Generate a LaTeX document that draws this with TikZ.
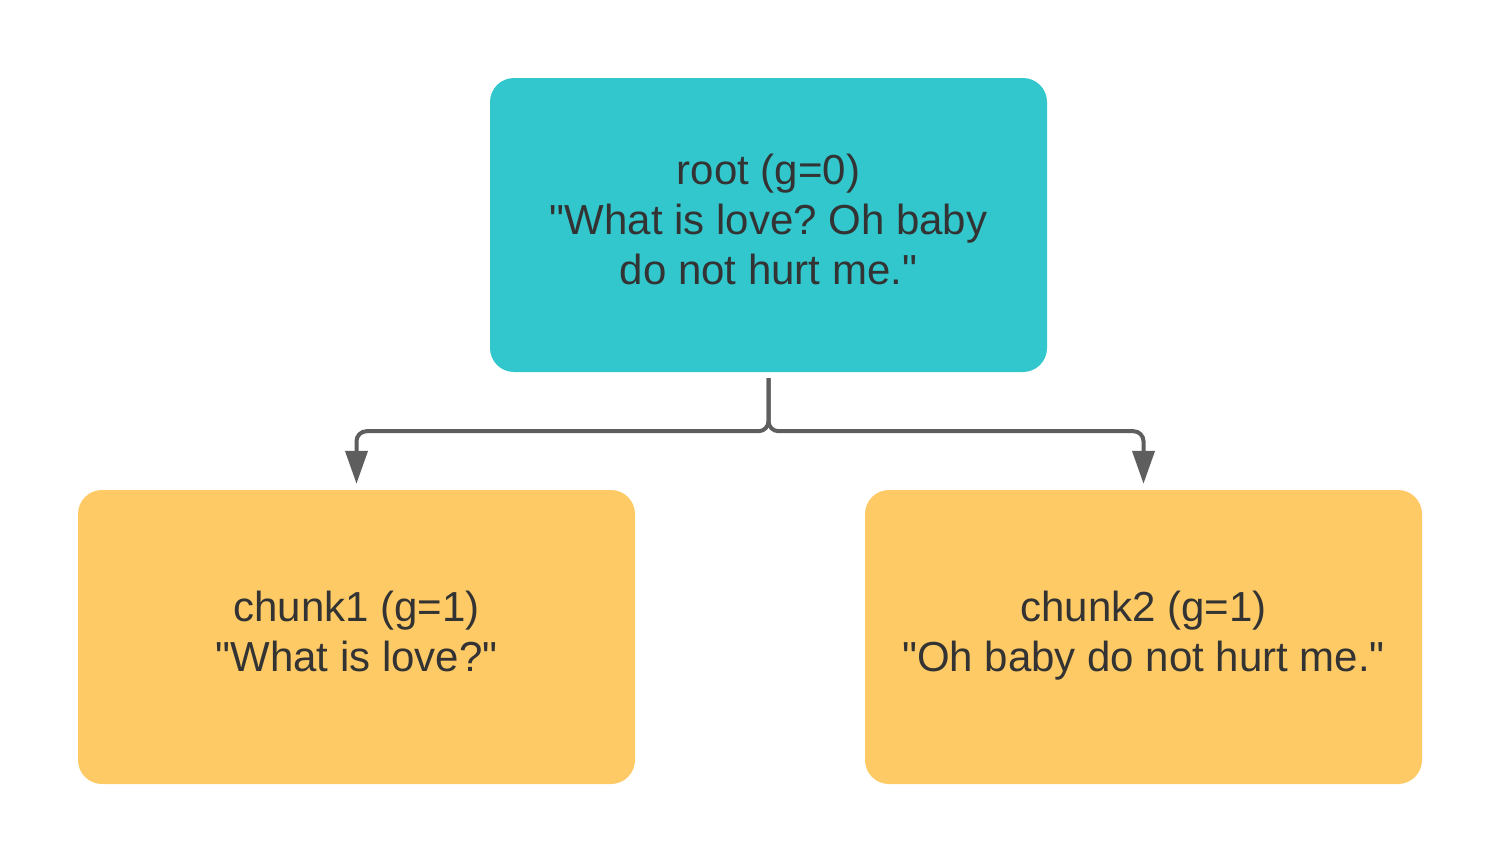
\documentclass[tikz,border=0pt]{standalone}
\usepackage{xcolor}
\usepackage{fontspec}
\setmainfont{Liberation Sans}
\frenchspacing
\usepackage{tikz}
\usetikzlibrary{arrows.meta}

\definecolor{rootcyan}{HTML}{31C7CD}
\definecolor{chunkyellow}{HTML}{FDCA65}
\definecolor{textgray}{HTML}{333333}
\definecolor{linegray}{HTML}{5E5E5E}

\newcommand{\qt}{\textquotedbl}

\tikzset{
    box/.style={rounded corners=24pt, inner sep=0pt, minimum width=557pt,
        minimum height=294pt, align=center, text=textgray, text depth=12pt,
        font=\fontsize{42}{50}\selectfont},
    rootbox/.style={box, fill=rootcyan},
    chunkbox/.style={box, fill=chunkyellow},
    conn/.style={draw=linegray, line width=4pt, rounded corners=10pt,
        -{Triangle[width=22pt, length=33pt]}}
}

\begin{document}
\begin{tikzpicture}[x=1pt, y=-1pt]
        \useasboundingbox (0, 0) rectangle (1500, 863);

        % Root
        \node[rootbox] (root) at (768.5, 225) {root (g=0)\\\qt What is love? Oh baby\\do not hurt me.\qt};

        % Chunks
        \node[chunkbox] (chunk1) at (356.5, 637) {chunk1 (g=1)\\\qt What is love?\qt};
        \node[chunkbox] (chunk2) at (1143.5, 637) {chunk2 (g=1)\\\qt Oh baby do not hurt me.\qt};

        % Connectors
        \draw[conn] ([yshift=-6pt]root.south) -- ++(0, 53) -| ([yshift=6pt]chunk1.north);
        \draw[conn] ([yshift=-6pt]root.south) -- ++(0, 53) -| ([yshift=6pt]chunk2.north);
    \end{tikzpicture}
\end{document}
